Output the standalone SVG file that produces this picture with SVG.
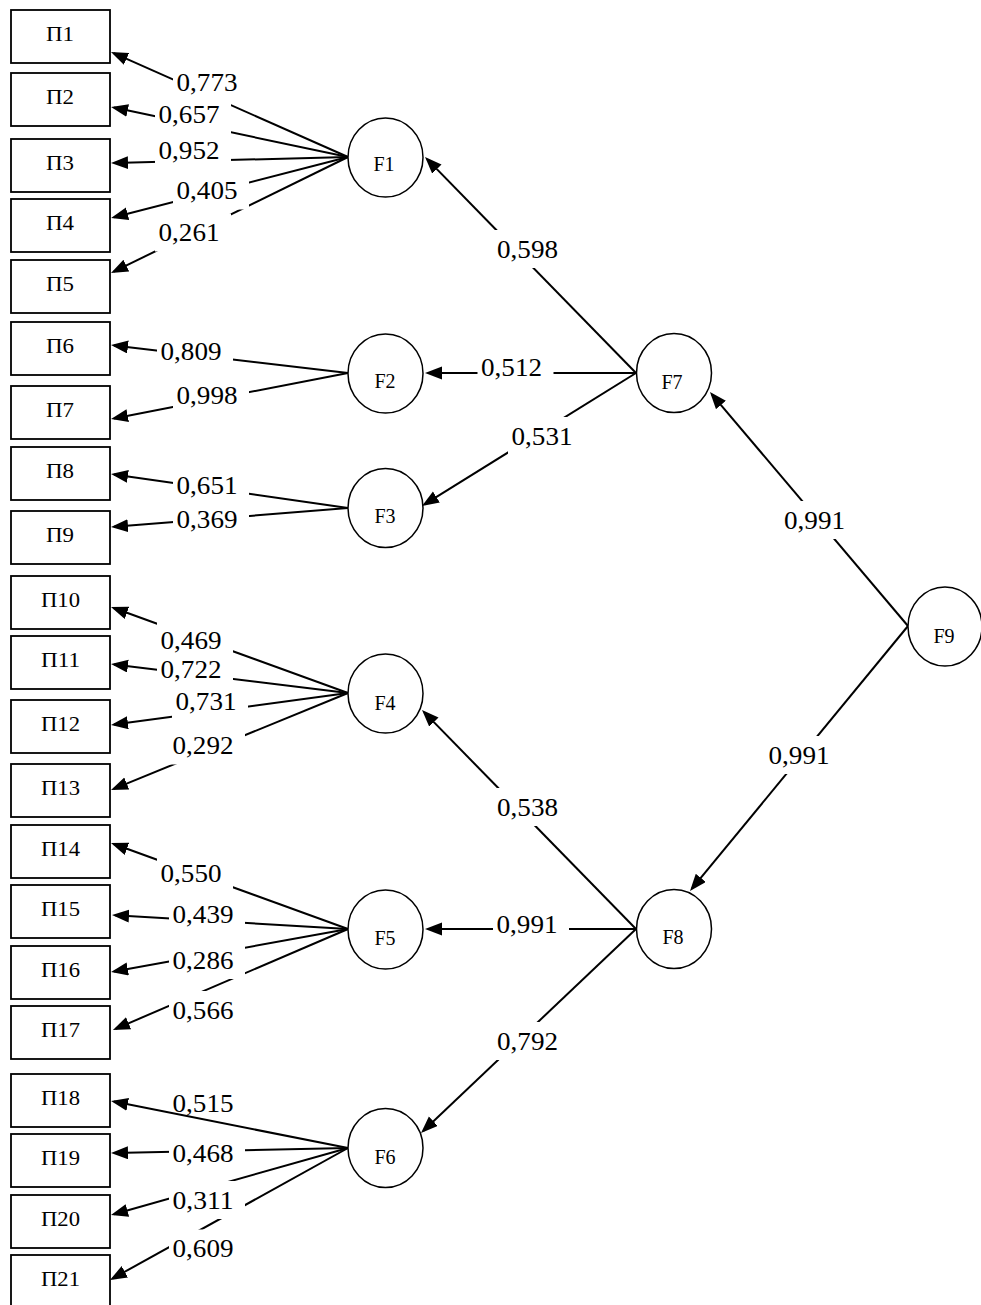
<svg xmlns="http://www.w3.org/2000/svg" width="981" height="1305" viewBox="0 0 981 1305">
<style>
.box{fill:#fff;stroke:#000;stroke-width:1.8}
.node{fill:#fff;stroke:#000;stroke-width:1.5}
.edge{stroke:#000;stroke-width:2;fill:none;marker-end:url(#ah)}
.bg{fill:#fff}
.t{font-family:"Liberation Serif","Times New Roman",serif;fill:#000;text-anchor:middle}
.lbl{font-size:24.5px}
.bl{font-size:20.5px}
.fl{font-size:20px}
</style>
<defs>
<marker id="ah" markerUnits="userSpaceOnUse" markerWidth="18" markerHeight="14" refX="14" refY="6.5" orient="auto">
<path d="M0,0 L17,6.5 L0,13 z" fill="#000"/>
</marker>
</defs>
<rect width="981" height="1305" fill="#fff"/>
<g id="connectors">
<path class="edge" d="M348,157 L113.7,53.2"/>
<path class="edge" d="M348,157 L114,107.6"/>
<path class="edge" d="M348,157 L114,163"/>
<path class="edge" d="M348,157 L114,217.2"/>
<path class="edge" d="M348,157 L113.7,271.7"/>
<path class="edge" d="M348,373 L114,345.4"/>
<path class="edge" d="M348,373 L114,418.4"/>
<path class="edge" d="M348,508 L114,474.4"/>
<path class="edge" d="M348,508 L114,526.8"/>
<path class="edge" d="M348,693 L113.8,608"/>
<path class="edge" d="M348,693 L114,664.4"/>
<path class="edge" d="M348,693 L114,724.6"/>
<path class="edge" d="M348,693 L113.8,788.9"/>
<path class="edge" d="M348,929 L113.8,844"/>
<path class="edge" d="M348,929 L115,915.2"/>
<path class="edge" d="M348,929 L114,971.5"/>
<path class="edge" d="M348,929 L115.7,1028.8"/>
<path class="edge" d="M348,1148 L114,1101.6"/>
<path class="edge" d="M348,1148 L114,1153"/>
<path class="edge" d="M348,1148 L113.9,1214.2"/>
<path class="edge" d="M348,1148 L112.6,1278.5"/>
<path class="edge" d="M636,373 L427.1,159.1"/>
<path class="edge" d="M636,373 L428,373"/>
<path class="edge" d="M636,373 L424.5,504.4"/>
<path class="edge" d="M908,626 L711.9,394.3"/>
<path class="edge" d="M908,626 L691.9,888.7"/>
<path class="edge" d="M636,929 L424.1,712.1"/>
<path class="edge" d="M636,929 L428,929"/>
<path class="edge" d="M636,929 L423.2,1130.9"/>
<g id="label-bg">
<rect class="bg" x="173" y="63.5" width="76" height="38"/>
<rect class="bg" x="155" y="95.5" width="76" height="38"/>
<rect class="bg" x="155" y="131" width="76" height="38"/>
<rect class="bg" x="173" y="171.5" width="76" height="38"/>
<rect class="bg" x="155" y="213.5" width="76" height="38"/>
<rect class="bg" x="157" y="332.5" width="76" height="38"/>
<rect class="bg" x="173" y="376.5" width="76" height="38"/>
<rect class="bg" x="173" y="466.5" width="76" height="38"/>
<rect class="bg" x="173" y="500.5" width="76" height="38"/>
<rect class="bg" x="157" y="621" width="76" height="38"/>
<rect class="bg" x="157" y="650.5" width="76" height="38"/>
<rect class="bg" x="172" y="682.5" width="76" height="38"/>
<rect class="bg" x="169" y="726.5" width="76" height="38"/>
<rect class="bg" x="157" y="854.5" width="76" height="38"/>
<rect class="bg" x="169" y="895.5" width="76" height="38"/>
<rect class="bg" x="169" y="941" width="76" height="38"/>
<rect class="bg" x="169" y="991" width="76" height="38"/>
<rect class="bg" x="169" y="1134.5" width="76" height="38"/>
<rect class="bg" x="169" y="1181" width="76" height="38"/>
<rect class="bg" x="169" y="1229.5" width="76" height="38"/>
<rect class="bg" x="493.5" y="230" width="76" height="38"/>
<rect class="bg" x="477.5" y="348.5" width="76" height="38"/>
<rect class="bg" x="508" y="417" width="76" height="38"/>
<rect class="bg" x="780.5" y="501" width="76" height="38"/>
<rect class="bg" x="765" y="736" width="76" height="38"/>
<rect class="bg" x="493.5" y="788" width="76" height="38"/>
<rect class="bg" x="493" y="905" width="76" height="38"/>
<rect class="bg" x="493.5" y="1022" width="76" height="38"/>
</g>
<g id="labels" class="t lbl">
<text x="207" y="91" textLength="61" lengthAdjust="spacingAndGlyphs">0,773</text>
<text x="189" y="123" textLength="61" lengthAdjust="spacingAndGlyphs">0,657</text>
<text x="189" y="158.5" textLength="61" lengthAdjust="spacingAndGlyphs">0,952</text>
<text x="207" y="199" textLength="61" lengthAdjust="spacingAndGlyphs">0,405</text>
<text x="189" y="241" textLength="61" lengthAdjust="spacingAndGlyphs">0,261</text>
<text x="191" y="360" textLength="61" lengthAdjust="spacingAndGlyphs">0,809</text>
<text x="207" y="404" textLength="61" lengthAdjust="spacingAndGlyphs">0,998</text>
<text x="207" y="494" textLength="61" lengthAdjust="spacingAndGlyphs">0,651</text>
<text x="207" y="528" textLength="61" lengthAdjust="spacingAndGlyphs">0,369</text>
<text x="191" y="648.5" textLength="61" lengthAdjust="spacingAndGlyphs">0,469</text>
<text x="191" y="678" textLength="61" lengthAdjust="spacingAndGlyphs">0,722</text>
<text x="206" y="710" textLength="61" lengthAdjust="spacingAndGlyphs">0,731</text>
<text x="203" y="754" textLength="61" lengthAdjust="spacingAndGlyphs">0,292</text>
<text x="191" y="882" textLength="61" lengthAdjust="spacingAndGlyphs">0,550</text>
<text x="203" y="923" textLength="61" lengthAdjust="spacingAndGlyphs">0,439</text>
<text x="203" y="968.5" textLength="61" lengthAdjust="spacingAndGlyphs">0,286</text>
<text x="203" y="1018.5" textLength="61" lengthAdjust="spacingAndGlyphs">0,566</text>
<text x="203" y="1112" textLength="61" lengthAdjust="spacingAndGlyphs">0,515</text>
<text x="203" y="1162" textLength="61" lengthAdjust="spacingAndGlyphs">0,468</text>
<text x="203" y="1208.5" textLength="61" lengthAdjust="spacingAndGlyphs">0,311</text>
<text x="203" y="1257" textLength="61" lengthAdjust="spacingAndGlyphs">0,609</text>
<text x="527.5" y="257.5" textLength="61" lengthAdjust="spacingAndGlyphs">0,598</text>
<text x="511.5" y="376" textLength="61" lengthAdjust="spacingAndGlyphs">0,512</text>
<text x="542" y="444.5" textLength="61" lengthAdjust="spacingAndGlyphs">0,531</text>
<text x="814.5" y="528.5" textLength="61" lengthAdjust="spacingAndGlyphs">0,991</text>
<text x="799" y="763.5" textLength="61" lengthAdjust="spacingAndGlyphs">0,991</text>
<text x="527.5" y="815.5" textLength="61" lengthAdjust="spacingAndGlyphs">0,538</text>
<text x="527" y="932.5" textLength="61" lengthAdjust="spacingAndGlyphs">0,991</text>
<text x="527.5" y="1049.5" textLength="61" lengthAdjust="spacingAndGlyphs">0,792</text>
</g>
</g>
<g id="P1"><rect class="box" x="11" y="10" width="99" height="53"/><text class="t bl" x="60" y="41" textLength="28" lengthAdjust="spacingAndGlyphs">Π1</text></g>
<g id="P2"><rect class="box" x="11" y="73" width="99" height="53"/><text class="t bl" x="60" y="104" textLength="28" lengthAdjust="spacingAndGlyphs">Π2</text></g>
<g id="P3"><rect class="box" x="11" y="139" width="99" height="53"/><text class="t bl" x="60" y="170" textLength="28" lengthAdjust="spacingAndGlyphs">Π3</text></g>
<g id="P4"><rect class="box" x="11" y="199" width="99" height="53"/><text class="t bl" x="60" y="230" textLength="28" lengthAdjust="spacingAndGlyphs">Π4</text></g>
<g id="P5"><rect class="box" x="11" y="260" width="99" height="53"/><text class="t bl" x="60" y="291" textLength="28" lengthAdjust="spacingAndGlyphs">Π5</text></g>
<g id="P6"><rect class="box" x="11" y="322" width="99" height="53"/><text class="t bl" x="60" y="353" textLength="28" lengthAdjust="spacingAndGlyphs">Π6</text></g>
<g id="P7"><rect class="box" x="11" y="386" width="99" height="53"/><text class="t bl" x="60" y="417" textLength="28" lengthAdjust="spacingAndGlyphs">Π7</text></g>
<g id="P8"><rect class="box" x="11" y="447" width="99" height="53"/><text class="t bl" x="60" y="478" textLength="28" lengthAdjust="spacingAndGlyphs">Π8</text></g>
<g id="P9"><rect class="box" x="11" y="511" width="99" height="53"/><text class="t bl" x="60" y="542" textLength="28" lengthAdjust="spacingAndGlyphs">Π9</text></g>
<g id="P10"><rect class="box" x="11" y="576" width="99" height="53"/><text class="t bl" x="60.5" y="607" textLength="39" lengthAdjust="spacingAndGlyphs">Π10</text></g>
<g id="P11"><rect class="box" x="11" y="636" width="99" height="53"/><text class="t bl" x="60.5" y="667" textLength="39" lengthAdjust="spacingAndGlyphs">Π11</text></g>
<g id="P12"><rect class="box" x="11" y="700" width="99" height="53"/><text class="t bl" x="60.5" y="731" textLength="39" lengthAdjust="spacingAndGlyphs">Π12</text></g>
<g id="P13"><rect class="box" x="11" y="764" width="99" height="53"/><text class="t bl" x="60.5" y="795" textLength="39" lengthAdjust="spacingAndGlyphs">Π13</text></g>
<g id="P14"><rect class="box" x="11" y="825" width="99" height="53"/><text class="t bl" x="60.5" y="856" textLength="39" lengthAdjust="spacingAndGlyphs">Π14</text></g>
<g id="P15"><rect class="box" x="11" y="885" width="99" height="53"/><text class="t bl" x="60.5" y="916" textLength="39" lengthAdjust="spacingAndGlyphs">Π15</text></g>
<g id="P16"><rect class="box" x="11" y="946" width="99" height="53"/><text class="t bl" x="60.5" y="977" textLength="39" lengthAdjust="spacingAndGlyphs">Π16</text></g>
<g id="P17"><rect class="box" x="11" y="1006" width="99" height="53"/><text class="t bl" x="60.5" y="1037" textLength="39" lengthAdjust="spacingAndGlyphs">Π17</text></g>
<g id="P18"><rect class="box" x="11" y="1074" width="99" height="53"/><text class="t bl" x="60.5" y="1105" textLength="39" lengthAdjust="spacingAndGlyphs">Π18</text></g>
<g id="P19"><rect class="box" x="11" y="1134" width="99" height="53"/><text class="t bl" x="60.5" y="1165" textLength="39" lengthAdjust="spacingAndGlyphs">Π19</text></g>
<g id="P20"><rect class="box" x="11" y="1195" width="99" height="53"/><text class="t bl" x="60.5" y="1226" textLength="39" lengthAdjust="spacingAndGlyphs">Π20</text></g>
<g id="P21"><rect class="box" x="11" y="1255" width="99" height="55"/><text class="t bl" x="60.5" y="1286" textLength="39" lengthAdjust="spacingAndGlyphs">Π21</text></g>
<g id="F1"><ellipse class="node" cx="385.5" cy="157.5" rx="37.5" ry="39.5"/><text class="t fl" x="384" y="171">F1</text></g>
<g id="F2"><ellipse class="node" cx="385.5" cy="373.5" rx="37.5" ry="39.5"/><text class="t fl" x="385" y="388">F2</text></g>
<g id="F3"><ellipse class="node" cx="385.5" cy="508" rx="37.5" ry="39.5"/><text class="t fl" x="385" y="523">F3</text></g>
<g id="F4"><ellipse class="node" cx="385.5" cy="693.5" rx="37.5" ry="39.5"/><text class="t fl" x="385" y="710">F4</text></g>
<g id="F5"><ellipse class="node" cx="385.5" cy="929.5" rx="37.5" ry="39.5"/><text class="t fl" x="385" y="945">F5</text></g>
<g id="F6"><ellipse class="node" cx="385.5" cy="1148" rx="37.5" ry="39.5"/><text class="t fl" x="385" y="1164">F6</text></g>
<g id="F7"><ellipse class="node" cx="674" cy="373" rx="37.5" ry="39.5"/><text class="t fl" x="672" y="389">F7</text></g>
<g id="F8"><ellipse class="node" cx="674" cy="929" rx="37.5" ry="39.5"/><text class="t fl" x="673" y="944">F8</text></g>
<g id="F9"><ellipse class="node" cx="945" cy="626.5" rx="37" ry="39.5"/><text class="t fl" x="944" y="643">F9</text></g>
</svg>
